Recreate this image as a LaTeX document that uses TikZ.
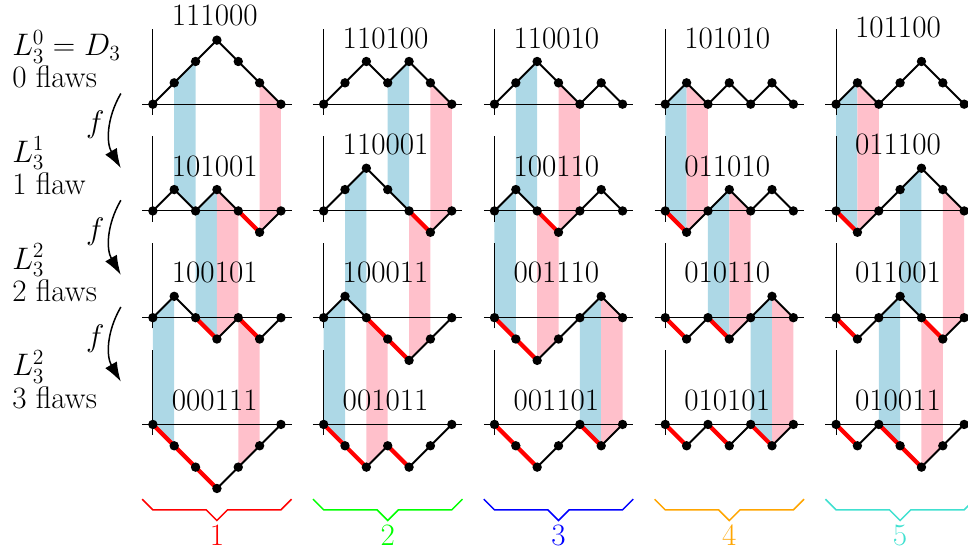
\documentclass[tikz,border=0pt]{standalone}
\usepackage{amsmath}
\usepackage{amssymb}
\usetikzlibrary{arrows.meta}

\definecolor{stripblue}{RGB}{173,216,230}
\definecolor{strippink}{RGB}{255,192,203}
\definecolor{brgreen}{RGB}{0,255,0}
\definecolor{brorange}{RGB}{255,165,0}
\definecolor{brturq}{RGB}{64,224,208}

\tikzset{
  axis/.style={line width=0.6pt},
  seg0/.style={line width=1.3pt, black},
  seg1/.style={line width=2.8pt, red},
  dot/.style={fill=black},
  side/.style={anchor=base west, inner sep=0pt},
  farrow/.style={line width=1pt, -{Latex[length=13pt,width=9pt]}},
  brace/.style={line width=1pt},
}

% column / row / label y / word / heights
\def\paths{1/1/2.07/111000/{0,1,2,3,2,1,0},
  2/1/1.55/110100/{0,1,2,1,2,1,0},
  3/1/1.55/110010/{0,1,2,1,0,1,0},
  4/1/1.55/101010/{0,1,0,1,0,1,0},
  5/1/1.80/101100/{0,1,0,1,2,1,0},
  1/2/1.05/101001/{0,1,0,1,0,-1,0},
  2/2/1.55/110001/{0,1,2,1,0,-1,0},
  3/2/1.05/100110/{0,1,0,-1,0,1,0},
  4/2/1.05/011010/{0,-1,0,1,0,1,0},
  5/2/1.55/011100/{0,-1,0,1,2,1,0},
  1/3/1.05/100101/{0,1,0,-1,0,-1,0},
  2/3/1.05/100011/{0,1,0,-1,-2,-1,0},
  3/3/1.05/001110/{0,-1,-2,-1,0,1,0},
  4/3/1.05/010110/{0,-1,0,-1,0,1,0},
  5/3/1.05/011001/{0,-1,0,1,0,-1,0},
  1/4/0.55/000111/{0,-1,-2,-3,-2,-1,0},
  2/4/0.55/001011/{0,-1,-2,-1,-2,-1,0},
  3/4/0.55/001101/{0,-1,-2,-1,0,-1,0},
  4/4/0.55/010101/{0,-1,0,-1,0,-1,0},
  5/4/0.55/010011/{0,-1,0,-1,-2,-1,0}}

\begin{document}
\begin{tikzpicture}[font=\huge]
\useasboundingbox (-3.58,-10.53) rectangle (19.09,2.44);
\def\dx{0.5}
\def\colsep{4}
\def\rowsep{2.5}

% points of every path
\foreach \c/\r/\ly/\word/\hs in \paths {
  \foreach \h [count=\i from 0] in \hs {
    \coordinate (p-\c-\r-\i) at ({(\c-1)*\colsep+\i*\dx}, {-(\r-1)*\rowsep+\h*\dx});
  }
}

% swapped steps, row r to row r+1
\foreach \c/\r/\k/\col in {1/1/1/stripblue, 1/1/5/strippink, 2/1/3/stripblue, 2/1/5/strippink,
    3/1/1/stripblue, 3/1/3/strippink, 4/1/0/stripblue, 4/1/1/strippink,
    5/1/0/stripblue, 5/1/1/strippink,
    1/2/2/stripblue, 1/2/3/strippink, 2/2/1/stripblue, 2/2/4/strippink,
    3/2/0/stripblue, 3/2/2/strippink, 4/2/2/stripblue, 4/2/3/strippink,
    5/2/3/stripblue, 5/2/5/strippink,
    1/3/0/stripblue, 1/3/4/strippink, 2/3/0/stripblue, 2/3/2/strippink,
    3/3/4/stripblue, 3/3/5/strippink, 4/3/4/stripblue, 4/3/5/strippink,
    5/3/2/stripblue, 5/3/4/strippink} {
  \pgfmathtruncatemacro\kk{\k+1}
  \pgfmathtruncatemacro\rr{\r+1}
  \fill[\col] (p-\c-\r-\k) -- (p-\c-\r-\kk) -- (p-\c-\rr-\kk) -- (p-\c-\rr-\k) -- cycle;
}

% axes, steps, dots, words
\foreach \c/\r/\ly/\word/\hs in \paths {
  \pgfmathsetmacro\x{(\c-1)*\colsep}
  \pgfmathsetmacro\y{-(\r-1)*\rowsep}
  \draw[axis] (\x-0.25,\y) -- (\x+3.25,\y);
  \draw[axis] (\x,\y-0.25) -- (\x,\y+1.75);
  \foreach \h [count=\i from 0, remember=\h as \hp (initially 0)] in \hs {
    \ifnum\i>0
      \pgfmathtruncatemacro\ip{\i-1}
      \pgfmathtruncatemacro\flaw{and(\h<\hp,\h<0)}
      \draw[seg\flaw] (p-\c-\r-\ip) -- (p-\c-\r-\i);
    \fi
  }
  \foreach \i in {0,...,6}
    \fill[dot] (p-\c-\r-\i) circle (0.11);
  \node (w-\c-\r) at (\x+1.45,\y+\ly) {\word};
}

% left column
\node[side] (la1) at (-3.30, 1.14) {$L_3^0 = D_3$};
\node[side] (lb1) at (-3.30, 0.38) {0 flaws};
\node[side] (la2) at (-3.30, -1.36) {$L_3^1$};
\node[side] (lb2) at (-3.30, -2.12) {1 flaw};
\node[side] (la3) at (-3.30, -3.86) {$L_3^2$};
\node[side] (lb3) at (-3.30, -4.62) {2 flaws};
\node[side] (la4) at (-3.30, -6.36) {$L_3^2$};
\node[side] (lb4) at (-3.30, -7.12) {3 flaws};

\foreach \r in {1,2,3} {
  \pgfmathsetmacro\y{-(\r-1)*\rowsep}
  \coordinate (fs\r) at (-0.75, \y+0.25);
  \coordinate (fe\r) at (-0.75, \y-1.5);
  \draw[farrow] (fs\r) to[bend right=30] node[left, pos=0.42] (f\r) {$f$} (fe\r);
}

% braces under the columns
\foreach \c/\col in {1/red, 2/brgreen, 3/blue, 4/brorange, 5/brturq} {
  \pgfmathsetmacro\x{(\c-1)*\colsep}
  \draw[brace, \col] (\x-0.25,-9.25) -- (\x,-9.5) -- (\x+1.25,-9.5) -- (\x+1.5,-9.75)
    -- (\x+1.75,-9.5) -- (\x+3,-9.5) -- (\x+3.25,-9.25);
  \node[text=\col] (n\c) at (\x+1.5,-10.09) {\c};
}
\end{tikzpicture}
\end{document}
